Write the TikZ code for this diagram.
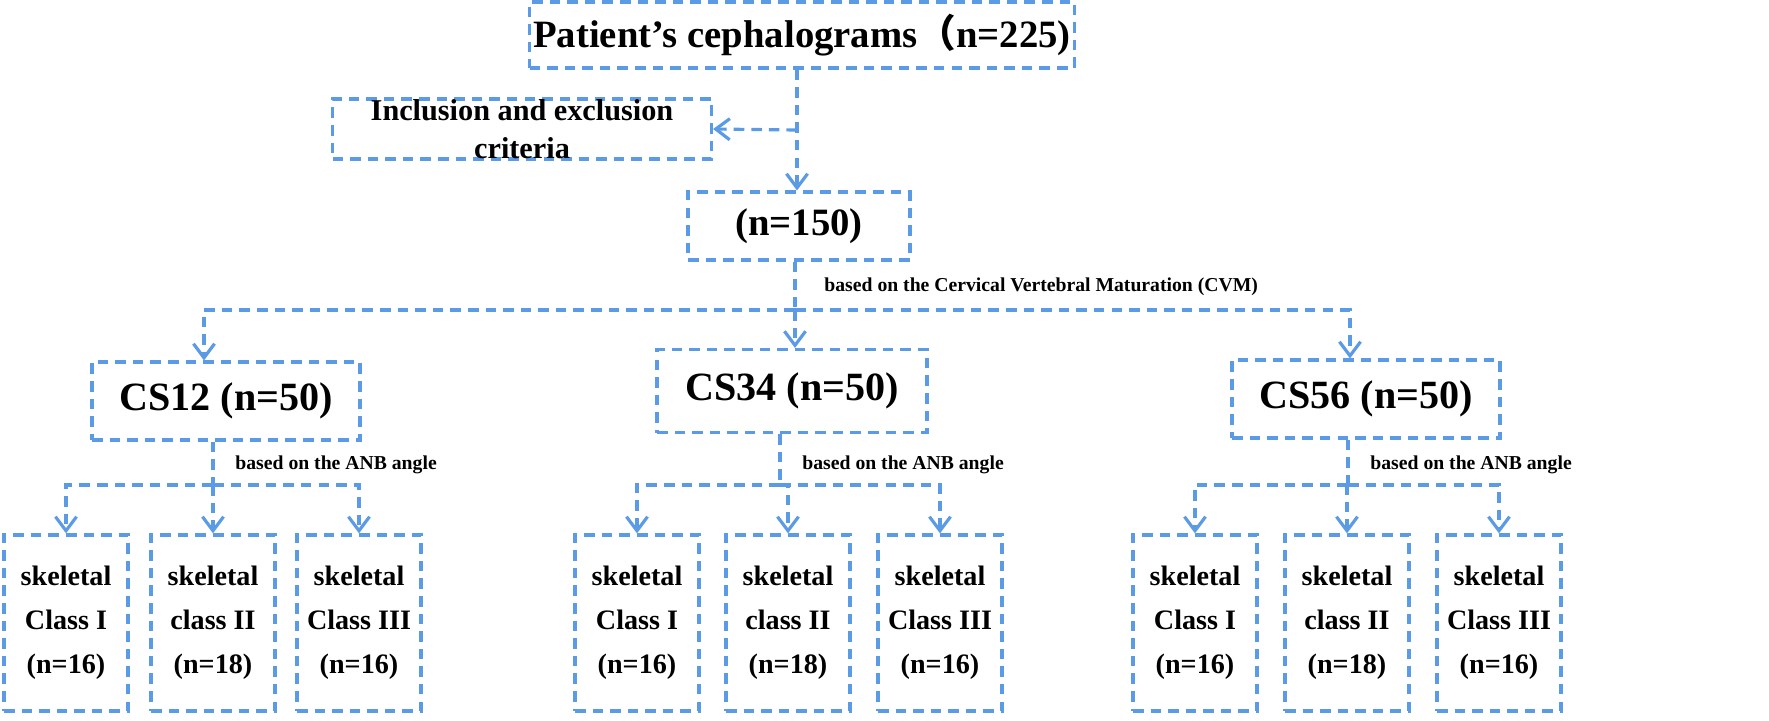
\documentclass[tikz,border=0pt]{standalone}
\usepackage{fontspec}
\setmainfont{Liberation Serif}
\newfontfamily\cjkf{Noto Sans CJK SC}
\usetikzlibrary{arrows.meta}
\definecolor{bl}{HTML}{5B9BE6}
\begin{document}
\begin{tikzpicture}[x=0.01cm,y=-0.01cm,
 box/.style={draw=bl,dashed,line width=0.9pt,dash pattern=on 3pt off 2pt,font=\bfseries,align=center,inner sep=0},
 ln/.style={draw=bl,line width=0.9pt,dash pattern=on 3pt off 2pt},
 ar/.style={ln,-{Straight Barb[length=4pt,width=6pt]}},
 lab/.style={font=\bfseries\fontsize{5.6}{7}\selectfont,anchor=west}]
\useasboundingbox (0,0) rectangle (1769,720);
\newcommand{\bx}[6]{\node[box,minimum width=#3*0.01cm,minimum height=#4*0.01cm,font=\bfseries#6] (#1) at (#2) {#5};}
\bx{top}{802,35}{545}{66}{Patient's cephalograms{\cjkf （}n=225)}{\fontsize{11}{13}\selectfont}
\bx{inc}{522,129}{379}{58}{Inclusion and exclusion\\criteria}{\fontsize{8.6}{11}\selectfont}
\bx{n150}{799,226}{222}{68}{(n=150)}{\fontsize{11}{13}\selectfont}
\bx{cs1}{226,401}{268}{78}{CS12 (n=50)}{\fontsize{11.4}{13}\selectfont}
\bx{cs2}{792,391}{270}{83}{CS34 (n=50)}{\fontsize{11.4}{13}\selectfont}
\bx{cs3}{1366,399}{268}{78}{CS56 (n=50)}{\fontsize{11.4}{13}\selectfont}
\foreach \n/\x/\t in {a1/66/skeletal\\Class I\\(n=16), a2/213/skeletal\\class II\\(n=18), a3/359/skeletal\\Class III\\(n=16),
 b1/637/skeletal\\Class I\\(n=16), b2/788/skeletal\\class II\\(n=18), b3/940/skeletal\\Class III\\(n=16),
 c1/1195/skeletal\\Class I\\(n=16), c2/1347/skeletal\\class II\\(n=18), c3/1499/skeletal\\Class III\\(n=16)}
 {\node[box,minimum width=1.24cm,minimum height=1.76cm,font=\bfseries\fontsize{8}{12.5}\selectfont] (\n) at (\x,623) {\t};}
\coordinate (j0) at (797,130);
\draw[ar] (top.south -| j0) -- (j0) -- (n150.north -| j0);
\draw[ar] (j0) -- (inc.east);
\coordinate (j1) at (795,310);
\draw[ln] (n150.south -| j1) -- (j1);
\draw[ar] (j1) -- (204,310) -- (cs1.north -| 204,0);
\draw[ar] (j1) -- (cs2.north -| j1);
\draw[ar] (j1) -- (1350,310) -- (cs3.north -| 1350,0);
\node[lab] at (812,287) {based on the Cervical Vertebral Maturation (CVM)};
\foreach \c/\a/\b/\cc/\xm in {cs1/a1/a2/a3/213, cs2/b1/b2/b3/780, cs3/c1/c2/c3/1348}{
 \coordinate (m) at (\xm,485);
 \draw[ln] (\c.south -| m) -- (m);
 \draw[ar] (m) -| (\a.north);
 \draw[ar] (m) -| (\b.north);
 \draw[ar] (m) -| (\cc.north);
 \node[lab] at (\xm+10,465) {based on the ANB angle};
}
\end{tikzpicture}
\end{document}
